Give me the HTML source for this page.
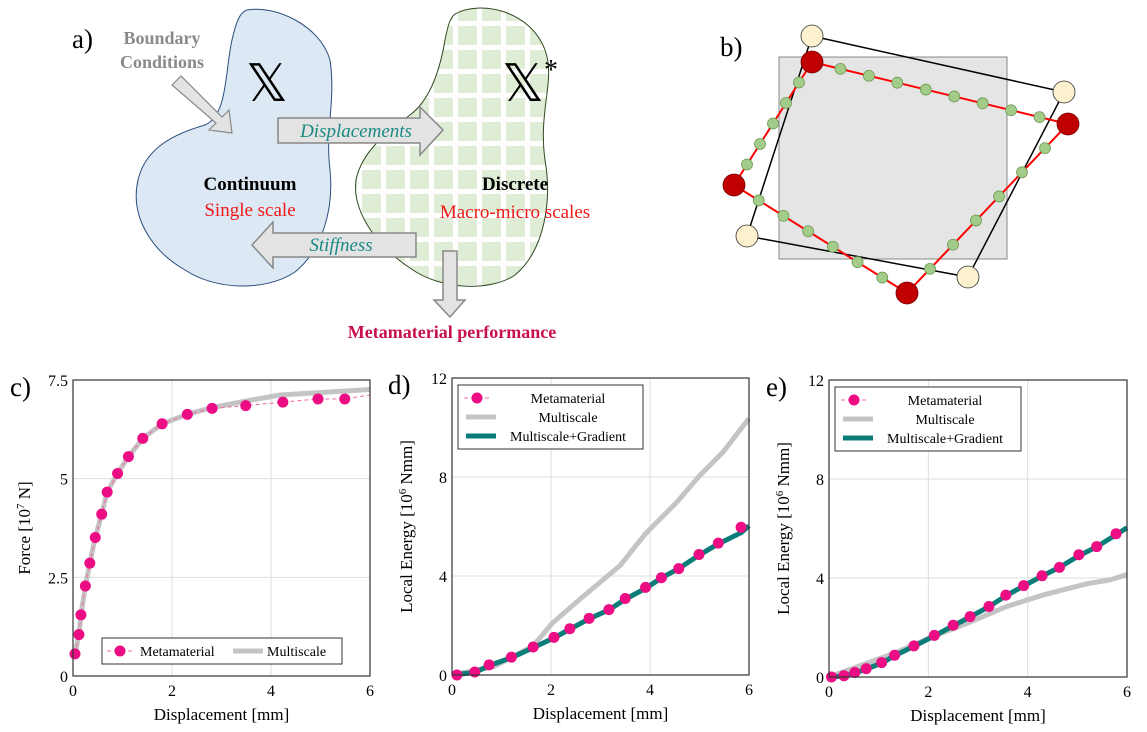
<!DOCTYPE html>
<html><head><meta charset="utf-8"><style>
html,body{margin:0;padding:0;background:#fff}
svg{display:block;font-family:"Liberation Serif",serif}
</style></head><body>
<svg id="root" width="1147" height="732" viewBox="0 0 1147 732" xmlns="http://www.w3.org/2000/svg">
<defs>
<pattern id="grid" width="24" height="24" patternUnits="userSpaceOnUse">
<rect width="24" height="24" fill="#fff"/><rect x="2" y="2" width="19" height="19" fill="#e0edd6"/>
</pattern>
</defs>
<!-- Panel a -->
<g>
<text x="72" y="48" font-size="27">a)</text>
<path d="M247,10 C275,5 320,25 330,60 C336,100 325,130 330,170 C334,210 322,250 295,272 C265,292 215,290 185,270 C150,250 130,215 138,180 C145,150 170,135 205,125 C228,115 225,70 232,40 C236,22 240,12 247,10 Z" fill="#dce8f4" stroke="#2c4e7e" stroke-width="1"/>
<path d="M455,14 C480,0 530,10 545,50 C556,80 538,110 545,160 C552,200 545,250 515,275 C490,292 440,290 410,268 C375,245 352,210 356,180 C362,150 390,130 410,115 C430,100 440,70 445,40 C448,25 450,18 455,14 Z" fill="url(#grid)" stroke="#2f4a20" stroke-width="1"/>
<text x="162" y="44" font-size="18" font-weight="bold" fill="#8a8a8a" text-anchor="middle">Boundary</text>
<text x="162" y="68" font-size="18" font-weight="bold" fill="#8a8a8a" text-anchor="middle">Conditions</text>
<polygon points="172,85 181,76 222,117 229,110 232,133 209,130 216,123" fill="#e3e3e3" stroke="#888" stroke-width="1.2"/>
<text x="267" y="101" font-size="52" text-anchor="middle">𝕏</text>
<text x="530" y="101" font-size="52" text-anchor="middle">𝕏<tspan font-size="28" dy="-22">*</tspan></text>
<polygon points="278,118 420,118 420,107 443,130 420,155 420,143 278,143" fill="#e3e3e3" stroke="#888" stroke-width="1.5"/>
<text x="356" y="137" font-size="19" font-style="italic" fill="#1a8a84" text-anchor="middle">Displacements</text>
<polygon points="416,233 273,233 273,222 252,245 273,268 273,257 416,257" fill="#e3e3e3" stroke="#888" stroke-width="1.5"/>
<text x="341" y="251" font-size="19" font-style="italic" fill="#1a8a84" text-anchor="middle">Stiffness</text>
<polygon points="443,251 457,251 457,300 465,300 450,317 434,300 443,300" fill="#e3e3e3" stroke="#888" stroke-width="1.5"/>
<text x="250" y="190" font-size="19" font-weight="bold" text-anchor="middle">Continuum</text>
<text x="250" y="216" font-size="19" fill="#f01818" text-anchor="middle">Single scale</text>
<text x="515" y="190" font-size="19" font-weight="bold" text-anchor="middle">Discrete</text>
<text x="515" y="218" font-size="19" fill="#f01818" text-anchor="middle">Macro-micro scales</text>
<text x="452" y="338" font-size="18" font-weight="bold" fill="#c8104a" text-anchor="middle">Metamaterial performance</text>
</g>
<!-- Panel b -->
<g id="pb">
<text x="720" y="56" font-size="27">b)</text>
<rect x="779" y="57" width="228" height="202" fill="#e5e5e5" stroke="#888" stroke-width="1"/>
<polygon points="812,36 1064,92 968,277 747,236" fill="none" stroke="#000" stroke-width="1.5"/>
<polygon points="812,62 1068,124 907,293 734,185" fill="none" stroke="#f00" stroke-width="2"/>
</g>
<g id="charts"></g>
</svg>
<script>
const NS="http://www.w3.org/2000/svg";
function mk(tag,attrs,parent){const e=document.createElementNS(NS,tag);for(const k in attrs)e.setAttribute(k,attrs[k]);parent.appendChild(e);return e;}
// panel b nodes
const pb=document.getElementById('pb');
const redPts=[[812,62],[1068,124],[907,293],[734,185]];
const edgeCounts=[8,6,6,5];
for(let i=0;i<4;i++){const a=redPts[i],b=redPts[(i+1)%4],n=edgeCounts[i];
 for(let j=1;j<=n;j++){const t=j/(n+1);const c=mk('circle',{cx:a[0]+(b[0]-a[0])*t,cy:a[1]+(b[1]-a[1])*t,r:5.5,fill:'#a3cc8a',stroke:'#6f9a55','stroke-width':0.8},pb);
 
 }}
const creamPts=[[812,36],[1064,92],[968,277],[747,236]];
creamPts.forEach(p=>{const c=mk('circle',{cx:p[0],cy:p[1],r:11,fill:'#fdf1cf',stroke:'#333','stroke-width':0.8},pb);
 
 });
redPts.forEach(p=>{const c=mk('circle',{cx:p[0],cy:p[1],r:11,fill:'#c00000',stroke:'#700','stroke-width':0.8},pb);
 
 });

// ---- chart data ----
const xTicks=[0,2,4,6];
const cYTicks=[0,2.5,5,7.5];
const cYTickLabels=['0','2.5','5','7.5'];
const eYTicks=[0,4,8,12];
const eYTickLabels=['0','4','8','12'];
const cMetaX=[0.04,0.12,0.16,0.25,0.34,0.45,0.58,0.69,0.9,1.12,1.41,1.8,2.31,2.81,3.49,4.24,4.95,5.49];
const cMetaY=[0.56,1.05,1.55,2.28,2.86,3.51,4.1,4.66,5.13,5.56,6.02,6.39,6.63,6.78,6.85,6.94,7.02,7.02];
const cMetaLineX=[...cMetaX,6];
const cMetaLineY=[...cMetaY,7.12];
const cMultiX=[0.04,0.12,0.16,0.25,0.34,0.45,0.58,0.69,0.9,1.12,1.41,1.8,2.31,2.81,3.5,4.19,6];
const cMultiY=[0.56,1.05,1.55,2.28,2.86,3.51,4.1,4.66,5.13,5.56,6.02,6.39,6.63,6.8,6.97,7.12,7.26];
const dMetaX=[0.1,0.46,0.75,1.2,1.64,2.06,2.38,2.77,3.17,3.5,3.91,4.23,4.58,4.99,5.38,5.84];
const dMetaY=[0,0.12,0.41,0.72,1.13,1.52,1.87,2.29,2.64,3.09,3.54,3.93,4.3,4.87,5.33,5.97];
const dGradX=[0,0.46,0.75,1.2,1.64,2.06,2.38,2.77,3.17,3.5,3.91,4.23,4.58,4.99,5.38,5.84,6];
const dGradY=[0,0.1,0.38,0.7,1.1,1.5,1.85,2.27,2.63,3.06,3.5,3.92,4.3,4.84,5.3,5.75,6.03];
const dMultiX=[0,0.85,1.64,2.03,2.6,3.4,3.9,4.54,5.01,5.48,6];
const dMultiY=[0,0.34,1.18,2.1,3.09,4.43,5.69,6.98,8.07,9.02,10.37];
const eMetaX=[0.05,0.3,0.52,0.75,1.06,1.32,1.71,2.12,2.5,2.84,3.22,3.56,3.92,4.29,4.64,5.03,5.39,5.78];
const eMetaY=[0,0.05,0.18,0.34,0.58,0.88,1.26,1.68,2.09,2.44,2.85,3.31,3.69,4.09,4.43,4.94,5.27,5.79];
const eGradX=[0,0.3,0.52,0.75,1.06,1.32,1.71,2.12,2.5,2.84,3.22,3.56,3.92,4.29,4.64,5.03,5.39,5.78,6];
const eGradY=[0,0.04,0.16,0.32,0.56,0.86,1.24,1.66,2.07,2.43,2.84,3.28,3.68,4.08,4.43,4.9,5.26,5.75,6.03];
const eMultiX=[0,1.3,2.0,2.78,3.58,4.32,5.2,5.67,6];
const eMultiY=[0,0.95,1.56,2.17,2.85,3.32,3.77,3.93,4.14];

const charts=document.getElementById('charts');
function chart(o){
 const g=mk('g',{},charts);
 const X=v=>o.x0+(v-0)/(6-0)*(o.x1-o.x0);
 const Y=v=>o.y1-(v-0)/(o.ymax)*(o.y1-o.y0);
 const lbl=mk('text',{x:o.lx,y:o.y0+16,'font-size':27},g);lbl.textContent=o.label;
 
 
 xTicks.forEach(t=>{const l=mk('line',{x1:X(t),x2:X(t),y1:o.y0,y2:o.y1,stroke:'#ddd','stroke-width':1},g);
  
  
  const tx=mk('text',{x:X(t),y:o.y1+20,'font-size':16,'text-anchor':'middle'},g);tx.textContent=t;
  
  });
 o.yt.forEach((t,i)=>{const l=mk('line',{x1:o.x0,x2:o.x1,y1:Y(t),y2:Y(t),stroke:'#ddd','stroke-width':1},g);
  
  
  const tx=mk('text',{x:o.x0-5,y:Y(t)+6,'font-size':16,'text-anchor':'end'},g);tx.textContent=o.ytl[i];
  
  });
 const pts=(xs,ys)=>xs.map((x,i)=>X(x)+','+Y(ys[i])).join(' ');
 o.series.forEach(s=>{
  if(s.type==='multi'){const p=mk('polyline',{points:pts(s.x,s.y),fill:'none',stroke:'#c4c4c4','stroke-width':5,'stroke-linejoin':'round'},g);
   
   }
  if(s.type==='grad'){const p=mk('polyline',{points:pts(s.x,s.y),fill:'none',stroke:'#0b7d78','stroke-width':5,'stroke-linejoin':'round'},g);
   
   }
  if(s.type==='meta'){
   if(s.lx){const p=mk('polyline',{points:pts(s.lx,s.ly),fill:'none',stroke:'#f06aa8','stroke-width':1,'stroke-dasharray':'4,3'},g);
    
    }
   s.x.forEach((x,i)=>{const c=mk('circle',{cx:X(x),cy:Y(s.y[i]),r:5.5,fill:'#ec0c84'},g);
    
    });}
 });
 mk('rect',{x:o.x0,y:o.y0,width:o.x1-o.x0,height:o.y1-o.y0,fill:'none',stroke:'#333','stroke-width':1.2},g);
 const xt=mk('text',{x:(o.x0+o.x1)/2,y:o.y1+44,'font-size':17,'text-anchor':'middle'},g);xt.textContent='Displacement [mm]';
 
 
 const yt=mk('text',{x:0,y:0,'font-size':17,'text-anchor':'middle',transform:`translate(${o.ytx},${(o.y0+o.y1)/2}) rotate(-90)`},g);
 yt.innerHTML=o.ytitle;
 
 
 // legend
 const L=o.leg;const lg=mk('g',{},g);
 
 
 mk('rect',{x:L.x,y:L.y,width:L.w,height:L.h,fill:'#fff',stroke:'#333','stroke-width':1},lg);
 L.items.forEach(it=>{
  if(it.t==='meta'){mk('line',{x1:it.sx,x2:it.sx+26,y1:it.y,y2:it.y,stroke:'#f06aa8','stroke-dasharray':'4,3'},lg);mk('circle',{cx:it.sx+13,cy:it.y,r:5.5,fill:'#ec0c84'},lg);}
  else mk('line',{x1:it.sx,x2:it.sx+30,y1:it.y,y2:it.y,stroke:it.t==='multi'?'#c4c4c4':'#0b7d78','stroke-width':5},lg);
  const tt=mk('text',{x:it.tx,y:it.y+5,'font-size':14,'text-anchor':it.anchor||'middle'},lg);tt.textContent=it.text;
  
  
 });
}
chart({name:'chart-c-force',label:'c)',lx:10,x0:73,x1:370,y0:380,y1:676,ymax:7.5,yt:cYTicks,ytl:cYTickLabels,ytx:30,
 ytitle:'Force [10<tspan dy="-6" font-size="11">7</tspan><tspan dy="6"> N]</tspan>',
 series:[{type:'multi',x:cMultiX,y:cMultiY},{type:'meta',x:cMetaX,y:cMetaY,lx:cMetaLineX,ly:cMetaLineY}],
 leg:{x:102,y:638,w:240,h:26,items:[{t:'meta',sx:107,y:651,tx:140,anchor:'start',text:'Metamaterial'},{t:'multi',sx:233,y:651,tx:267,anchor:'start',text:'Multiscale'}]}});
chart({name:'chart-d-energy',label:'d)',lx:388,x0:452,x1:749,y0:378,y1:675,ymax:12,yt:eYTicks,ytl:eYTickLabels,ytx:412,
 ytitle:'Local Energy [10<tspan dy="-6" font-size="11">6</tspan><tspan dy="6"> Nmm]</tspan>',
 series:[{type:'multi',x:dMultiX,y:dMultiY},{type:'grad',x:dGradX,y:dGradY},{type:'meta',x:dMetaX,y:dMetaY}],
 leg:{x:458,y:385,w:185,h:64,items:[{t:'meta',sx:464,y:398,tx:568,text:'Metamaterial'},{t:'multi',sx:466,y:417,tx:568,text:'Multiscale'},{t:'grad',sx:466,y:436,tx:568,text:'Multiscale+Gradient'}]}});
chart({name:'chart-e-energy',label:'e)',lx:766,x0:829,x1:1127,y0:380,y1:677,ymax:12,yt:eYTicks,ytl:eYTickLabels,ytx:789,
 ytitle:'Local Energy [10<tspan dy="-6" font-size="11">6</tspan><tspan dy="6"> Nmm]</tspan>',
 series:[{type:'multi',x:eMultiX,y:eMultiY},{type:'grad',x:eGradX,y:eGradY},{type:'meta',x:eMetaX,y:eMetaY}],
 leg:{x:835,y:387,w:186,h:64,items:[{t:'meta',sx:841,y:400,tx:945,text:'Metamaterial'},{t:'multi',sx:843,y:419,tx:945,text:'Multiscale'},{t:'grad',sx:843,y:438,tx:945,text:'Multiscale+Gradient'}]}});
</script>
</body></html>
